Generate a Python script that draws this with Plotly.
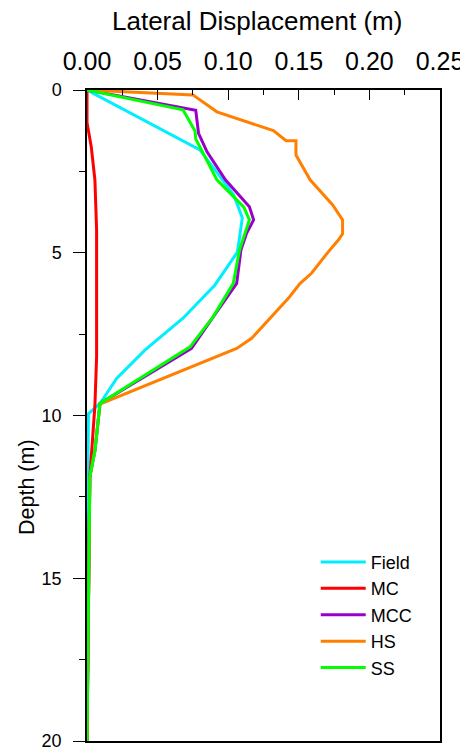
import plotly.graph_objects as go

# Field (cyan)
field_x = [0.0, 0.080, 0.104, 0.110, 0.1065, 0.092, 0.0906, 0.068, 0.041, 0.021, 0.0092, 0.001, 0.0005, 0.0]
field_d = [0.0, 1.84, 3.23, 3.93, 4.98, 5.87, 5.99, 7.01, 7.99, 8.86, 9.63, 9.95, 12.5, 20.0]

# MC (red)
mc_x = [0.0, 0.0, 0.003, 0.0056, 0.0068, 0.0069, 0.0068, 0.0056, 0.002, 0.0]
mc_d = [0.0, 1.0, 1.74, 2.76, 4.3, 5.84, 8.2, 9.7, 11.9, 20.0]

# MCC (purple)
mcc_x = [0.0, 0.0186, 0.077, 0.079, 0.085, 0.098, 0.115, 0.118, 0.113, 0.109, 0.106, 0.0895, 0.074, 0.0092, 0.0057, 0.002, 0.0]
mcc_d = [0.0, 0.15, 0.62, 1.33, 1.90, 2.76, 3.59, 3.99, 4.40, 4.92, 5.94, 6.96, 7.94, 9.63, 11.06, 11.88, 20.0]

# HS (orange)
hs_x = [0.0, 0.075, 0.092, 0.132, 0.141, 0.148, 0.148, 0.158, 0.174, 0.181, 0.181, 0.178, 0.170, 0.159, 0.151, 0.150,
        0.1426, 0.132, 0.1166, 0.106, 0.0092, 0.0057, 0.002, 0.0]
hs_d = [0.0, 0.15, 0.67, 1.25, 1.56, 1.56, 2.0, 2.76, 3.53, 3.99, 4.42, 4.61, 5.02, 5.63, 5.94, 5.99,
        6.40, 6.91, 7.63, 7.94, 9.65, 11.06, 11.88, 20.0]

# SS (green)
ss_x = [0.0, 0.068, 0.0765, 0.077, 0.092, 0.111, 0.115, 0.110, 0.108, 0.1036, 0.0894, 0.073, 0.0092, 0.0057, 0.002, 0.0]
ss_d = [0.0, 0.61, 1.26, 1.50, 2.76, 3.59, 3.99, 4.67, 4.92, 5.94, 6.96, 7.89, 9.63, 11.06, 11.88, 20.0]

x_ticks = [0.00, 0.05, 0.10, 0.15, 0.20, 0.25]
y_ticks = [0, 5, 10, 15, 20]

series = [
    ("Field", field_x, field_d, "#00EEFF"),
    ("MC", mc_x, mc_d, "#FF0000"),
    ("MCC", mcc_x, mcc_d, "#9900CC"),
    ("HS", hs_x, hs_d, "#FF8000"),
    ("SS", ss_x, ss_d, "#00FF00"),
]

fig = go.Figure()
for name, xs, ds, col in series:
    fig.add_trace(go.Scatter(x=xs, y=ds, mode="lines", name=name,
                             line=dict(color=col, width=3)))

FONT = "Arial, Liberation Sans, sans-serif"

# page has an 8px body margin, so the figure is 8px smaller and margins shifted
fig.update_layout(
    width=460, height=741,
    margin=dict(l=79, r=28, t=82, b=8),
    paper_bgcolor="white", plot_bgcolor="white",
    font=dict(family=FONT, color="black"),
    showlegend=True,
    legend=dict(x=0.648, y=0.303, xanchor="left", yanchor="top",
                font=dict(size=18, family=FONT), bgcolor="rgba(0,0,0,0)",
                itemwidth=45, tracegroupgap=0),
    xaxis=dict(
        side="top", range=[0, 0.25], tickvals=x_ticks, tickformat=".2f",
        ticks="inside", ticklen=10, tickwidth=1, tickcolor="black",
        minor=dict(dtick=0.025, ticks="inside", ticklen=5, tickcolor="black"),
        showline=True, linecolor="black", linewidth=1.5, mirror=True,
        showgrid=False, zeroline=False, automargin=False,
        ticklabeloverflow="allow", ticklabelstandoff=8,
        tickfont=dict(size=25, family=FONT),
    ),
    yaxis=dict(
        range=[20, 0], tickvals=y_ticks,
        ticks="outside", ticklen=12, tickwidth=1, tickcolor="black",
        minor=dict(dtick=2.5, ticks="outside", ticklen=6, tickcolor="black"),
        showline=True, linecolor="black", linewidth=1.5, mirror=True,
        showgrid=False, zeroline=False, automargin=False,
        ticklabeloverflow="allow", ticklabelstandoff=8,
        tickfont=dict(size=18, family=FONT),
    ),
    annotations=[
        dict(text="Lateral Displacement (m)", xref="paper", yref="paper",
             x=(256.5 - 87) / 353, y=(741 - 20.5) / 651, xanchor="center", yanchor="middle",
             showarrow=False, font=dict(size=26, family=FONT)),
        dict(text="Depth (m)", xref="paper", yref="paper",
             x=(27 - 87) / 353, y=(741 - 487) / 651, xanchor="center", yanchor="middle",
             textangle=-90, showarrow=False, font=dict(size=21.5, family=FONT)),
    ],
)

fig.write_html("out.html")
